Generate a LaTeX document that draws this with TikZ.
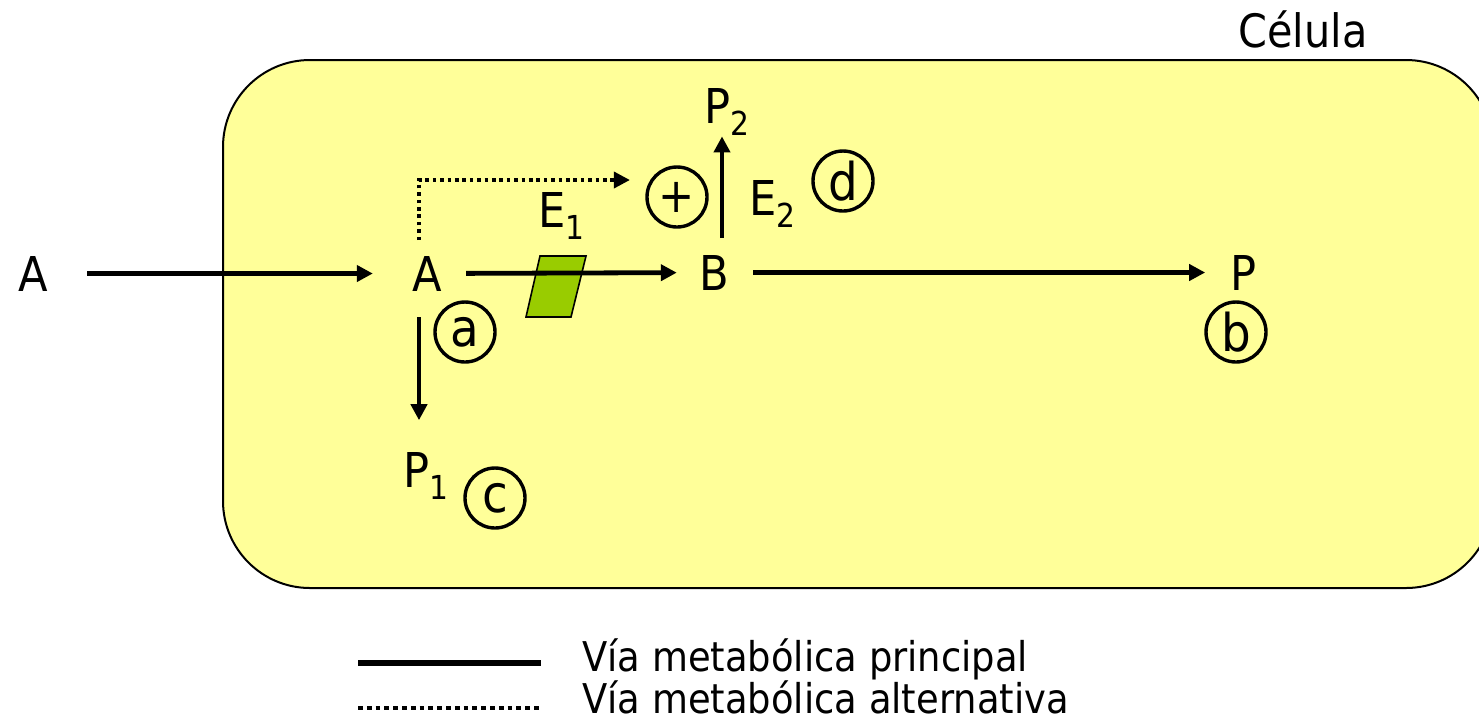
\documentclass[tikz,border=0pt]{standalone}
\usepackage{fontspec}
\setmainfont{DejaVu Sans}[FakeStretch=0.9]
\usetikzlibrary{arrows.meta}
\definecolor{cellyellow}{HTML}{FFFF99}
\definecolor{enzgreen}{HTML}{99CC00}
\newcommand{\lowidx}[1]{\raisebox{-6pt}{\fontsize{16.5}{16}\selectfont #1}}

\begin{document}
\begin{tikzpicture}[x=0.5pt,y=-0.5pt]

\tikzset{mol/.style = {inner sep=0pt, font=\fontsize{24}{28}\selectfont}}
\tikzset{circtag/.style = {shape=circle,draw,line width=1.7pt,minimum size=30pt,inner sep=0pt,font=\fontsize{26}{30}\selectfont}}
\tikzset{edge/.style = {-{Triangle[length=8pt,width=8pt]}, line width=2.4pt, shorten <=12pt, shorten >=12pt}}
\tikzset{altedge/.style = {edge, line width=1.8pt, dash pattern=on 1.8pt off 1.9pt}}
\useasboundingbox (0,0) rectangle (1479,720);
% cell
\draw[fill=cellyellow, line width=1pt, rounded corners=43.5pt] (223,60) rectangle (1493,588);
\node[mol, anchor=base, font=\fontsize{23}{27}\selectfont] (cel) at (1303,47) {Célula};
% metabolites
\node[mol, anchor=base] (Aext) at (33,291) {A};
\node[mol, anchor=base] (A) at (427,291) {A};
\node[mol, anchor=base] (B) at (714,290) {B};
\node[mol, anchor=base] (P) at (1244,290) {P};
\node[mol, anchor=base west] (P1) at (403,487) {P\lowidx{1}};
\node[mol, anchor=base west] (P2) at (704,123) {P\lowidx{2}};
% enzymes
\draw[fill=enzgreen, line width=0.8pt] (540,256) -- (586,256) -- (571,317) -- (526,317) -- cycle;
\node[mol, anchor=base west] (E1) at (538,227) {E\lowidx{1}};
\node[mol, anchor=base west] (E2) at (749,215) {E\lowidx{2}};
% tags
\node[circtag, font=\fontsize{24}{28}\selectfont] (plus) at (677,197) {+};
\node[circtag] (ca) at (465,332) {a};
\node[circtag] (cb) at (1236,332) {b};
\node[circtag] (cc) at (495,498) {c};
\node[circtag] (cd) at (843,181) {d};
% edges
\coordinate (downx) at (419,0);
\coordinate (upx) at (722,0);
\coordinate (altc) at (419,180);
\draw[edge, shorten <=19.5pt, shorten >=19.5pt] (Aext) -- (A);
\draw[edge, shorten >=11pt] (A) -- (B);
\draw[edge, shorten <=12pt, shorten >=12.7pt] (B) -- (P);
\draw[edge, shorten <=13pt, shorten >=15.7pt] (A.south -| downx) -- (P1.north -| downx);
\draw[edge, shorten <=8.2pt, shorten >=0.5pt] (B.north -| upx) -- (P2.south -| upx);
\draw[altedge, shorten <=7.7pt, shorten >=7.7pt] (A.north -| altc) -- (altc) -- (plus.west |- altc);
% legend
\draw[line width=2.6pt] (358,663) -- (541,663);
\draw[line width=2.2pt, dash pattern=on 2.4pt off 2pt] (358,708) -- (540,708);
\node[anchor=base west, inner sep=0pt, font=\fontsize{20.5}{24}\selectfont] (leg1) at (582,671) {Vía metabólica principal};
\node[anchor=base west, inner sep=0pt, font=\fontsize{20.5}{24}\selectfont] (leg2) at (582,713) {Vía metabólica alternativa};
\end{tikzpicture}
\end{document}
